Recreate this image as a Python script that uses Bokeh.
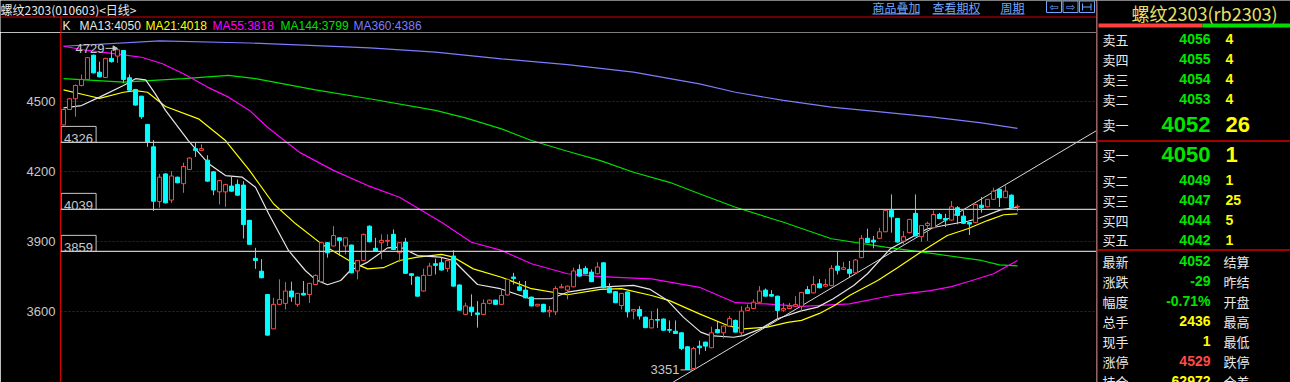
import numpy as np
from bokeh.plotting import figure
from bokeh.layouts import row, column
from bokeh.models import Range1d, FixedTicker, ColumnDataSource, Span
from bokeh.core.properties import value
from bokeh.embed import file_html
from bokeh.resources import INLINE

# ---------------- data ----------------
opens = [4401,4467,4513,4570,4596,4700,4627,4604,4686,4696,
         4720,4603,4553,4524,4403,4307,4072,4191,4079,4177,
         4149,4210,4299,4292,4250,4200,4114,4114,4139,4146,
         4143,3992,3829,3774,3674,3527,3632,3636,3689,3632,
         3679,3674,3717,3729,3896,3882,3917,3882,3886,3775,
         3820,3967,3872,3896,3903,3932,3853,3899,3763,3749,
         3689,3756,3806,3810,3786,3839,3715,3589,3620,3595,
         3589,3636,3650,3632,3672,3749,3707,3693,3663,3625,
         3632,3600,3600,3703,3693,3707,3782,3786,3770,3763,
         3810,3703,3686,3627,3685,3603,3610,3577,3531,3567,
         3569,3524,3517,3510,3450,3357,3453,3470,3446,3524,
         3510,3539,3563,3510,3606,3614,3641,3693,3674,3667,
         3607,3614,3624,3624,3695,3681,3720,3710,3712,3796,
         3782,3782,3767,3832,3915,3907,3915,3943,4035,4000,
         3903,3939,4022,3922,3970,3960,4017,4000,3993,4046,
         4010,3983,3982,4057,4050,4082,4125,4089,4100,4049]
closes = [4467,4513,4570,4596,4689,4624,4607,4686,4672,4723,
          4596,4550,4486,4436,4327,4074,4177,4067,4182,4153,
          4223,4259,4292,4299,4160,4122,4163,4146,4117,4100,
          3974,3889,3820,3746,3500,3632,3653,3689,3664,3679,
          3672,3722,3756,3896,3853,3927,3906,3917,3767,3820,
          3932,3900,3860,3906,3906,3867,3896,3765,3756,3667,
          3756,3796,3799,3779,3820,3710,3607,3625,3600,3589,
          3636,3650,3632,3670,3739,3743,3692,3660,3625,3632,
          3600,3606,3700,3707,3710,3775,3753,3763,3729,3792,
          3703,3682,3639,3679,3600,3610,3582,3532,3567,3564,
          3521,3521,3507,3443,3353,3443,3446,3453,3510,3510,
          3539,3571,3513,3603,3617,3641,3689,3667,3667,3606,
          3614,3624,3631,3683,3678,3717,3703,3717,3786,3778,
          3789,3765,3822,3915,3897,3899,3943,4035,4007,3899,
          3922,3996,3925,3970,3979,4017,4000,3993,4050,4013,
          3979,3976,4060,4046,4082,4117,4089,4117,4046,4052]
highs = [4470,4517,4574,4617,4692,4702,4672,4688,4720,4729,
         4722,4617,4555,4526,4405,4336,4191,4193,4203,4179,
         4239,4262,4324,4318,4271,4202,4165,4148,4179,4167,
         4160,3994,3874,3826,3676,3660,3739,3727,3729,3681,
         3732,3724,3760,3898,3898,3967,3919,3919,3888,3822,
         3935,3970,3917,3932,3932,3953,3898,3917,3765,3751,
         3785,3810,3828,3832,3822,3864,3717,3639,3675,3646,
         3653,3653,3652,3696,3741,3767,3732,3732,3665,3634,
         3634,3625,3710,3720,3712,3789,3803,3796,3782,3813,
         3813,3722,3688,3681,3687,3612,3624,3579,3603,3614,
         3571,3563,3563,3512,3452,3450,3477,3472,3536,3556,
         3541,3582,3567,3624,3631,3653,3710,3700,3693,3669,
         3638,3638,3667,3685,3710,3753,3740,3740,3800,3857,
         3814,3818,3826,3929,3956,3925,3960,4037,4103,4002,
         3946,3998,4103,3972,3986,4034,4024,4020,4075,4053,
         4035,3985,4063,4092,4084,4132,4127,4142,4103,4060]
lows = [4398,4465,4436,4566,4594,4622,4605,4602,4668,4667,
        4579,4548,4484,4427,4307,4032,4046,4065,4067,4151,
        4110,4208,4264,4289,4158,4100,4060,4050,4115,4098,
        3914,3887,3784,3744,3498,3525,3630,3610,3643,3622,
        3670,3638,3715,3727,3832,3880,3839,3846,3765,3739,
        3818,3898,3858,3825,3882,3865,3813,3763,3715,3665,
        3687,3754,3760,3777,3771,3708,3605,3587,3582,3532,
        3587,3632,3630,3630,3670,3717,3690,3658,3623,3623,
        3598,3577,3586,3701,3653,3705,3751,3761,3727,3761,
        3701,3680,3637,3610,3576,3568,3567,3530,3529,3531,
        3519,3510,3505,3436,3351,3355,3417,3432,3444,3508,
        3486,3537,3511,3500,3604,3612,3639,3665,3665,3574,
        3600,3612,3622,3602,3676,3679,3701,3708,3710,3760,
        3780,3749,3765,3830,3895,3872,3913,3941,3939,3897,
        3889,3937,3923,3900,3903,3958,3998,3963,3991,3975,
        3977,3929,3980,4025,4048,4080,4049,4087,4044,4030]

ma13_i = [0,2,3,6,10,12,13.7,15.3,17,20.8,24.2,27,29.8,32,34.2,37.5,40.3,42,44,46.2,
          47.8,50.7,54,56.2,59,62.8,65,69,72.8,77.8,81.2,84,89.5,95,97.8,100.7,103.3,106.2,
          107.8,111.7,113.3,116.2,119,122.8,125.7,128.3,131.7,134,137.8,144,146.7,150.7,
          152.8,156.2,159]
ma13_v = [4474,4480,4484,4520,4570,4599,4594,4534,4463,4334,4234,4184,4177,4134,4020,3863,
          3777,3738,3716,3734,3777,3813,3874,3877,3841,3834,3820,3717,3699,3656,3656,3684,
          3706,3713,3696,3648,3577,3513,3498,3491,3498,3527,3570,3603,3620,3656,3713,3763,
          3870,3956,3970,3988,4003,4037,4048]
ma21_i = [0,4,6,10,12,14,17,22.5,27,31,35,38.7,43,48,50.7,53.3,56,59,63,65,68.3,73,78,84,
          89.5,93,98,101,106,110.7,113.3,117.3,120.7,123,126,128.5,131,135.7,139,143.3,
          147.3,150.7,154,156.7,159]
ma21_v = [4551,4527,4515,4541,4548,4541,4480,4427,4334,4206,4063,3977,3891,3813,3784,3789,
          3820,3834,3846,3834,3784,3748,3699,3673,3696,3699,3670,3648,3591,3541,3527,3534,
          3555,3563,3593,3627,3670,3734,3789,3863,3927,3956,3991,4016,4020]
ma55_i = [0,4,10,13,16.5,20,24,27.5,31,34,37.5,39.5,45,50.7,56,63,68,73,78,84,89.5,98,106,
          112,117,123,131,138,144.5,148,151,155,159]
ma55_v = [4738,4720,4701,4691,4663,4620,4563,4520,4463,4391,4320,4281,4206,4141,4091,3984,
          3898,3863,3806,3763,3751,3741,3705,3639,3634,3623,3634,3670,3691,3708,3731,3763,3820]
ma144_i = [0,10,20,27.5,32,42,51,62,67,73,78,84,89.5,95,101,106,112,120,128,137,145,153,156,159]
ma144_v = [4599,4584,4599,4613,4599,4551,4513,4463,4431,4384,4334,4288,4248,4198,4155,4106,
           4048,3984,3913,3877,3849,3820,3801,3797]
ma360_i = [0,16,31,42,51,62,73,84,95,106,112,120,128,137,145,153,159]
ma360_v = [4738,4761,4752,4741,4731,4713,4684,4659,4627,4577,4541,4506,4477,4455,4434,4410,4386]

ma_names = ["MA13", "MA21", "MA55", "MA144", "MA360"]
ma_last = [4050, 4018, 3818, 3799, 4386]

levels = [4326, 4039, 3859]
trend_i = [101.5, 172.2]
trend_v = [3297, 4377]
y_ticks = [3600, 3900, 4200, 4500]

title_text = "螺纹2303(010603)<日线>"
link_texts = ["商品叠加", "查看期权", "周期"]

panel_title = "螺纹2303(rb2303)"
ask_labels = ["卖五", "卖四", "卖三", "卖二", "卖一"]
ask_prices = [4056, 4055, 4054, 4053, 4052]
ask_vols = [4, 4, 4, 4, 26]
bid_labels = ["买一", "买二", "买三", "买四", "买五"]
bid_prices = [4050, 4049, 4047, 4044, 4042]
bid_vols = [1, 1, 25, 5, 1]
stat_labels = ["最新", "涨跌", "幅度", "总手", "现手", "涨停", "持仓"]
stat_values = ["4052", "-29", "-0.71%", "2436", "1", "4529", "62972"]
stat_kinds = ["g", "g", "g", "y", "y", "r", "y"]
stat_labels2 = ["结算", "昨结", "开盘", "最高", "最低", "跌停", "仓差"]

# ---------------- styles ----------------
BG = "#000000"
RED_LINE = "#d40000"
UP = "#ff4646"
DOWN = "#00ffff"
MA_COLORS = ["#e6e6e6", "#ffff00", "#ff00ff", "#00e000", "#7c7cff"]
LINK = "#6fa6ff"
GREEN = "#00e600"
YELLOW = "#ffff00"
REDTXT = "#ff4848"
WHITE = "#e8e8e8"
GRAY = "#c8c8c8"
CJK = value("Noto Sans CJK SC")
NUM = value("Liberation Sans")

MAIN_W, HDR_H, MAIN_H, PANEL_W = 1096, 32, 350, 194
Y0, Y1 = 3297, 4797
X0, X1 = -0.5, 172.17
px_val = (Y1 - Y0) / MAIN_H
px_idx = (X1 - X0) / (MAIN_W - 60)


def bare(fig):
    fig.grid.visible = False
    fig.axis.visible = False
    return fig


def no_align(fig):
    try:
        fig.frame_align = False
    except Exception:
        pass
    return fig


# ---------------- header ----------------
hdr = figure(width=MAIN_W, height=HDR_H, x_range=Range1d(0, MAIN_W), y_range=Range1d(HDR_H, 0),
             x_axis_location=None, y_axis_location=None, toolbar_location=None,
             output_backend="svg", min_border=0, min_border_left=0, min_border_right=0,
             min_border_top=0, min_border_bottom=0, background_fill_color=BG,
             border_fill_color=BG, outline_line_color=None)
bare(hdr)
no_align(hdr)
hdr.text(x=[0], y=[8.5], text=[title_text], text_font=CJK, text_font_size="12px",
         text_color=WHITE, text_baseline="middle")
link_x = [872, 932, 1000]
link_w = [47, 47, 24]
hdr.text(x=link_x, y=[7] * 3, text=link_texts, text_font=CJK, text_font_size="12px",
         text_color=LINK, text_baseline="middle")
hdr.segment(x0=link_x, y0=[13.5] * 3, x1=[a + b for a, b in zip(link_x, link_w)], y1=[13.5] * 3,
            line_color=LINK, line_width=1)
box_l = [1046, 1062.5, 1079]
hdr.quad(left=box_l, right=[b + 15 for b in box_l], top=[0.5] * 3, bottom=[12] * 3,
         fill_color=None, line_color=LINK, line_width=1)
hdr.text(x=[1053.5, 1070], y=[6.5, 6.5], text=["⇦", "⇨"], text_font=value("DejaVu Sans"),
         text_font_size="11px", text_color=LINK, text_align="center", text_baseline="middle")
hdr.segment(x0=[1082, 1090.5, 1082], y0=[3, 3, 6.5], x1=[1082, 1090.5, 1090.5], y1=[10, 10, 6.5],
            line_color=LINK, line_width=1)
hdr.segment(x0=[0, 60.5], y0=[16.5, 16.5], x1=[MAIN_W, 60.5], y1=[16.5, HDR_H],
            line_color=RED_LINE, line_width=1.2)
leg_x = [79, 145, 212, 280, 353]
hdr.text(x=[62], y=[25.5], text=["K"], text_font=NUM, text_font_size="12px",
         text_color=WHITE, text_baseline="middle")
hdr.text(x=leg_x, y=[25.5] * 5, text=[f"{n}:{v}" for n, v in zip(ma_names, ma_last)],
         text_font=NUM, text_font_size="12px", text_color=MA_COLORS, text_baseline="middle")

# ---------------- main chart ----------------
p = figure(width=MAIN_W, height=MAIN_H, x_range=Range1d(X0, X1), y_range=Range1d(Y0, Y1),
           x_axis_location=None, y_axis_location="left", toolbar_location=None,
           output_backend="svg", min_border_left=60, min_border_right=0, min_border_top=0,
           min_border_bottom=0, background_fill_color=BG, border_fill_color=BG,
           outline_line_color=None)
no_align(p)
p.xgrid.visible = False
p.ygrid.ticker = FixedTicker(ticks=y_ticks)
p.ygrid.grid_line_color = "#900000"
p.ygrid.grid_line_dash = "2 2"
p.ygrid.grid_line_width = 1
ax = p.yaxis[0]
ax.ticker = FixedTicker(ticks=y_ticks)
ax.axis_line_color = RED_LINE
ax.axis_line_width = 1.2
ax.major_tick_line_color = None
ax.minor_tick_line_color = None
ax.major_tick_out = 0
ax.major_tick_in = 0
ax.major_label_standoff = 5
ax.major_label_text_color = GRAY
ax.major_label_text_font = "Liberation Sans"
ax.major_label_text_font_size = "13px"

for lv in levels:
    p.add_layout(Span(location=lv, dimension="width", line_color=GRAY, line_width=1.2))
box_cx = ((60.5 + 95.7) / 2 - 60) * px_idx + X0
p.rect(x=[box_cx] * len(levels), y=[lv + 8 * px_val for lv in levels], width=35, height=16,
       width_units="screen", height_units="screen", fill_color=BG, line_color=GRAY, line_width=1)
p.text(x=[X0] * len(levels), y=levels, text=[str(v) for v in levels], x_offset=3.5, y_offset=-4,
       text_font=NUM, text_font_size="13px", text_color=GRAY, text_baseline="alphabetic")

p.line(trend_i, trend_v, line_color="#d8d8d8", line_width=1)

for mi, mv, col in zip([ma360_i, ma144_i, ma55_i, ma21_i, ma13_i],
                       [ma360_v, ma144_v, ma55_v, ma21_v, ma13_v],
                       MA_COLORS[::-1]):
    p.line(mi, mv, line_color=col, line_width=1.2)

o = np.array(opens, dtype=float)
c = np.array(closes, dtype=float)
h = np.array(highs, dtype=float)
l = np.array(lows, dtype=float)
ix = np.arange(len(o))
up = c >= o
for mask, col, fill in [(up, UP, BG), (~up, DOWN, DOWN)]:
    src = ColumnDataSource(dict(x=ix[mask], h=h[mask], l=l[mask],
                                top=np.maximum(o, c)[mask], bot=np.minimum(o, c)[mask]))
    p.segment(x0="x", y0="h", x1="x", y1="l", line_color=col, line_width=1, source=src)
    p.vbar(x="x", width=0.68, top="top", bottom="bot", fill_color=fill, line_color=col,
           line_width=1, source=src)

hi_i = int(np.argmax(h))
lo_i = int(np.argmin(l))
p.text(x=[hi_i], y=[h[hi_i]], text=[str(int(h[hi_i]))], x_offset=-13, text_align="right",
       text_baseline="middle", text_font=NUM, text_font_size="13px", text_color=GRAY)
p.segment(x0=[hi_i - 12 * px_idx], y0=[h[hi_i]], x1=[hi_i - 2 * px_idx], y1=[h[hi_i]],
          line_color=GRAY, line_width=1)
p.scatter(x=[hi_i - 3 * px_idx], y=[h[hi_i]], marker="triangle", size=5, angle=-np.pi / 2,
          fill_color=GRAY, line_color=GRAY)
p.text(x=[lo_i], y=[l[lo_i]], text=[str(int(l[lo_i]))], x_offset=-8, text_align="right",
       text_baseline="middle", text_font=NUM, text_font_size="13px", text_color=GRAY)
p.segment(x0=[lo_i - 7 * px_idx], y0=[l[lo_i]], x1=[lo_i + 5 * px_idx], y1=[l[lo_i]],
          line_color=GRAY, line_width=1)

# ---------------- right quote panel ----------------
H = HDR_H + MAIN_H
pan = figure(width=PANEL_W, height=H, x_range=Range1d(0, PANEL_W), y_range=Range1d(H, 0),
             x_axis_location=None, y_axis_location=None, toolbar_location=None,
             output_backend="svg", min_border=0, min_border_left=0, min_border_right=0,
             min_border_top=0, min_border_bottom=0, background_fill_color=BG,
             border_fill_color=BG, outline_line_color=None)
bare(pan)
no_align(pan)
pan.text(x=[35], y=[12], text=[panel_title], text_font=CJK, text_font_size="18px",
         text_color="#e8e066", text_baseline="middle")
pan.quad(left=[2, 106], right=[106, PANEL_W], top=[23, 23], bottom=[27, 27],
         fill_color=["#ff4040", "#00dd00"], line_color=None)
pan.segment(x0=[0.8, 0.8, 0.8], y0=[0, 140.5, 249.5], x1=[0.8, PANEL_W, PANEL_W],
            y1=[H, 140.5, 249.5], line_color=RED_LINE, line_width=1.5)

ask_y = [38.5, 58.5, 78.5, 98.5, 123.5]
bid_y = [154, 179.5, 199.5, 219.5, 239]
stat_y = [260.5 + 20 * k for k in range(len(stat_labels))]
LX, PX, VX, L2X = 6, 114, 129, 127

pan.text(x=[LX] * 10, y=ask_y + bid_y, text=ask_labels + bid_labels, text_font=CJK,
         text_font_size="13px", text_color=WHITE, text_baseline="middle")
prices = ask_prices + bid_prices
vols = ask_vols + bid_vols
rows_y = ask_y + bid_y
big = [False, False, False, False, True, True, False, False, False, False]
for sel_big, fs in [(False, "14px"), (True, "22px")]:
    ys = [y for y, b in zip(rows_y, big) if b == sel_big]
    pv = [str(v) for v, b in zip(prices, big) if b == sel_big]
    vv = [str(v) for v, b in zip(vols, big) if b == sel_big]
    pan.text(x=[PX] * len(ys), y=ys, text=pv, text_font=NUM, text_font_style="bold",
             text_font_size=fs, text_color=GREEN, text_align="right", text_baseline="middle")
    pan.text(x=[VX] * len(ys), y=ys, text=vv, text_font=NUM, text_font_style="bold",
             text_font_size=fs, text_color=YELLOW, text_baseline="middle")

kind_col = {"g": GREEN, "y": YELLOW, "r": REDTXT}
pan.text(x=[LX] * len(stat_y), y=stat_y, text=stat_labels, text_font=CJK, text_font_size="13px",
         text_color=WHITE, text_baseline="middle")
pan.text(x=[PX] * len(stat_y), y=stat_y, text=stat_values, text_font=NUM, text_font_style="bold",
         text_font_size="14px", text_color=[kind_col[k] for k in stat_kinds], text_align="right",
         text_baseline="middle")
pan.text(x=[L2X] * len(stat_y), y=stat_y, text=stat_labels2, text_font=CJK, text_font_size="13px",
         text_color=WHITE, text_baseline="middle")

layout = row(column(hdr, p, spacing=0), pan, spacing=0)
open("out.html", "w").write(file_html(layout, INLINE))
